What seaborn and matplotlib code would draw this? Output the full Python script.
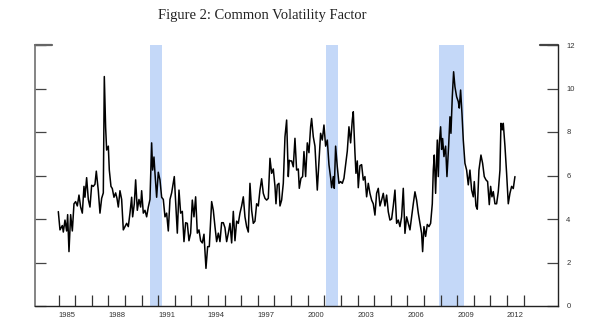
import matplotlib
matplotlib.use("Agg")
import matplotlib.pyplot as plt
import seaborn as sns
import numpy as np
import pandas as pd

# ---- data ----
years_a = [1984.984, 1985.084, 1985.225, 1985.285, 1985.385, 1985.485, 1985.546, 1985.626, 1985.726, 1985.827,
           1985.927, 1986.027, 1986.128, 1986.228, 1986.328, 1986.429, 1986.529, 1986.589, 1986.689, 1986.790,
           1986.890, 1986.991, 1987.091, 1987.191, 1987.271, 1987.392, 1987.492, 1987.593, 1987.693, 1987.753,
           1987.833, 1987.894, 1987.994, 1988.054, 1988.154, 1988.235, 1988.335, 1988.435, 1988.516, 1988.596,
           1988.696, 1988.797, 1988.897, 1988.997, 1989.098, 1989.198, 1989.298, 1989.399, 1989.459, 1989.559,
           1989.640, 1989.740, 1989.840, 1989.941, 1990.001, 1990.101, 1990.201, 1990.302, 1990.402, 1990.503,
           1990.603, 1990.663, 1990.743, 1990.804, 1990.904, 1991.004, 1991.105, 1991.205, 1991.305, 1991.406,
           1991.506, 1991.606, 1991.707, 1991.807, 1991.967]
vals_a = [4.34, 3.5, 3.7, 3.4, 3.95, 3.45, 4.2, 2.5, 4.2, 3.45,
          4.7, 4.8, 4.6, 5.1, 4.55, 4.27, 5.5, 5.0, 5.9, 4.9,
          4.55, 5.55, 5.5, 5.6, 6.2, 5.3, 4.27, 4.95, 5.2, 10.55,
          8.2, 7.17, 7.35, 6.25, 5.5, 5.4, 5.0, 5.2, 4.95, 4.55,
          5.3, 4.9, 3.5, 3.65, 3.8, 3.65, 4.27, 5.0, 4.1, 4.7,
          5.8, 4.4, 4.9, 4.55, 5.3, 4.27, 4.4, 4.1, 4.55, 4.9,
          7.5, 6.25, 6.85, 6.1, 5.0, 6.15, 5.8, 5.0, 4.9, 4.1,
          4.27, 3.45, 4.9, 5.2, 5.95]

years_b = [1992.149, 1992.249, 1992.349, 1992.450, 1992.550, 1992.650, 1992.751, 1992.851, 1992.951, 1993.052,
           1993.152, 1993.252, 1993.353, 1993.453, 1993.553, 1993.654, 1993.754, 1993.874, 1993.975, 1994.075,
           1994.216, 1994.316, 1994.416, 1994.517, 1994.617, 1994.717, 1994.818, 1994.918, 1995.018, 1995.119,
           1995.219, 1995.319, 1995.420, 1995.520, 1995.620, 1995.721, 1995.821, 1995.921, 1996.022, 1996.122,
           1996.222, 1996.323, 1996.423, 1996.523, 1996.624, 1996.724, 1996.824, 1996.925, 1997.025, 1997.125,
           1997.226, 1997.326, 1997.427, 1997.527, 1997.627, 1997.728, 1997.828, 1997.928, 1998.029, 1998.089,
           1998.169, 1998.269, 1998.330, 1998.430, 1998.530, 1998.631, 1998.731, 1998.831, 1998.891]
vals_b = [3.35, 5.33, 4.27, 4.35, 2.96, 3.83, 3.8, 3.0, 3.35, 4.87,
          4.1, 5.02, 3.35, 3.5, 3.0, 2.9, 3.3, 1.73, 2.73, 2.73,
          4.8, 4.4, 3.65, 2.96, 3.35, 2.96, 3.83, 3.83, 3.6, 2.96,
          3.35, 3.8, 2.9, 4.35, 3.0, 3.9, 3.8, 4.27, 4.6, 5.02,
          4.1, 3.65, 3.4, 5.64, 4.4, 3.8, 3.9, 4.7, 4.6, 5.33,
          5.85, 5.18, 4.95, 4.87, 4.95, 6.79, 6.1, 6.3, 5.5, 4.7,
          5.57, 5.64, 4.6, 4.87, 5.64, 7.78, 8.55, 5.95, 6.7]

years_c = [1998.931, 1999.031, 1999.132, 1999.232, 1999.332, 1999.433, 1999.493, 1999.593, 1999.694, 1999.774,
           1999.874, 1999.975, 2000.075, 2000.175, 2000.235, 2000.336, 2000.436, 2000.577, 2000.677, 2000.777,
           2000.878, 2000.978, 2001.078, 2001.179, 2001.279, 2001.379, 2001.440, 2001.540, 2001.600, 2001.680,
           2001.781, 2001.881, 2001.981, 2002.082, 2002.182, 2002.282, 2002.383, 2002.483, 2002.583, 2002.684,
           2002.744, 2002.844, 2002.905, 2002.985, 2003.045, 2003.145, 2003.246, 2003.346, 2003.446, 2003.547,
           2003.647, 2003.747, 2003.848, 2003.948, 2004.048, 2004.149, 2004.249, 2004.350, 2004.450, 2004.550,
           2004.651, 2004.751, 2004.851, 2004.952, 2005.052, 2005.152, 2005.253, 2005.353, 2005.453, 2005.554,
           2005.654, 2005.754]
vals_c = [6.67, 6.67, 6.4, 7.71, 6.25, 6.3, 5.41, 5.87, 5.95, 7.1,
          5.95, 7.5, 7.05, 8.24, 8.62, 7.78, 7.35, 5.33, 6.67, 7.94,
          7.63, 8.32, 7.35, 7.63, 6.5, 5.9, 5.44, 5.95, 5.41, 7.35,
          6.4, 5.64, 5.72, 5.64, 5.87, 6.5, 7.12, 8.24, 7.5, 8.55,
          8.93, 7.05, 6.1, 6.67, 5.44, 6.45, 6.5, 5.79, 5.95, 5.02,
          5.64, 5.18, 4.87, 4.7, 4.18, 5.18, 5.41, 4.6, 4.87, 5.18,
          4.6, 5.1, 4.33, 3.95, 4.0, 4.6, 5.33, 3.8, 3.95, 3.65,
          4.1, 5.41]

years_d = [2005.855, 2005.955, 2006.056, 2006.156, 2006.256, 2006.357, 2006.457, 2006.557, 2006.658, 2006.758,
           2006.858, 2006.919, 2006.999, 2007.099, 2007.200, 2007.300, 2007.400, 2007.501, 2007.561, 2007.621,
           2007.701, 2007.802, 2007.862, 2007.922, 2008.002, 2008.063, 2008.123, 2008.203, 2008.303, 2008.384,
           2008.484, 2008.564, 2008.624, 2008.705, 2008.785, 2008.865, 2008.966, 2009.066, 2009.126, 2009.206,
           2009.287, 2009.367, 2009.467, 2009.568, 2009.668, 2009.768, 2009.869, 2009.969, 2010.029, 2010.130,
           2010.210, 2010.310, 2010.431, 2010.531, 2010.631, 2010.732, 2010.832, 2010.932, 2011.013, 2011.093,
           2011.173, 2011.274, 2011.374, 2011.474, 2011.575, 2011.635, 2011.715, 2011.775, 2011.876, 2011.976,
           2012.076, 2012.176, 2012.277, 2012.377, 2012.477]
vals_d = [3.34, 4.1, 3.8, 3.5, 4.1, 4.7, 5.25, 4.87, 4.27, 3.8,
          3.34, 2.5, 3.65, 3.2, 3.75, 3.65, 3.8, 4.7, 6.25, 6.94,
          5.18, 7.63, 5.95, 7.47, 8.24, 7.2, 7.7, 6.87, 7.35, 5.95,
          7.35, 8.7, 7.94, 9.62, 10.77, 10.08, 9.62, 9.4, 9.1, 9.93,
          8.86, 7.63, 6.56, 6.25, 5.57, 6.25, 5.33, 5.02, 5.72, 4.6,
          4.45, 6.25, 6.94, 6.56, 5.95, 5.8, 5.72, 4.66, 5.5, 5.02,
          5.26, 4.7, 4.7, 5.26, 6.25, 8.4, 8.1, 8.4, 7.35, 6.1,
          4.7, 5.18, 5.5, 5.4, 5.95]

recession_start = [1990.50, 2001.10, 2007.92]
recession_end = [1991.20, 2001.83, 2009.42]

year_label_values = [1985, 1988, 1991, 1994, 1997, 2000, 2003, 2006, 2009, 2012]
y_tick_values = [0, 2, 4, 6, 8, 10, 12]

title = "Figure 2: Common Volatility Factor"

df = pd.DataFrame({
    "year": years_a + years_b + years_c + years_d,
    "factor": vals_a + vals_b + vals_c + vals_d,
})

# ---- figure ----
sns.set_style("white")
plt.rcParams["font.family"] = ["Liberation Sans", "DejaVu Sans"]

fig = plt.figure(figsize=(6.0, 3.34), dpi=100)
ax = fig.add_axes([35 / 600, 28 / 334, 523 / 600, 261 / 334])

for s, e in zip(recession_start, recession_end):
    ax.axvspan(s, e, color="#c4d8f8", lw=0, zorder=0)

sns.lineplot(data=df, x="year", y="factor", ax=ax, color="black",
             lw=1.1, estimator=None, sort=False, zorder=3)

ax.set_xlim(1983.58, 2015.07)
ax.set_ylim(0, 12)
ax.set_xlabel("")
ax.set_ylabel("")

# spines
ax.spines["top"].set_visible(False)
ax.spines["left"].set_color("#707070")
ax.spines["left"].set_linewidth(1.2)
ax.spines["right"].set_color("#222222")
ax.spines["right"].set_linewidth(1.0)
ax.spines["bottom"].set_color("#222222")
ax.spines["bottom"].set_linewidth(1.0)

# y ticks on both sides, labels on the right
ax.set_yticks(y_tick_values)
ax.yaxis.set_ticks_position("both")
ax.tick_params(axis="y", which="major", direction="in", length=8, width=0.9,
               color="#444444", left=True, right=True, labelleft=False,
               labelright=True, labelsize=5.5, labelcolor="#333333", pad=6)
# longer corner ticks at the top value
ax.axhline(y_tick_values[-1], xmin=0, xmax=17 / 523, color="#666666", lw=1.6, clip_on=False)
ax.axhline(y_tick_values[-1], xmin=1 - 18 / 523, xmax=1, color="#444444", lw=1.6, clip_on=False)

# x axis: year labels at mid-year, no tick marks
ax.set_xticks([y + 0.5 for y in year_label_values])
ax.set_xticklabels([str(y) for y in year_label_values])
ax.tick_params(axis="x", which="major", length=0, labelsize=5.5,
               labelcolor="#333333", pad=4)
# quarterly minor ticks
quarters = [1985 + q / 4 for q in range(0, 28 * 4 + 1)]
ax.set_xticks(quarters, minor=True)
ax.tick_params(axis="x", which="minor", direction="in", length=3.5,
               width=0.8, color="#333333")
# tall yearly ticks on a secondary axis
sec = ax.secondary_xaxis("bottom")
sec.set_xticks(list(range(1985, 2014)))
sec.set_xticklabels([])
sec.tick_params(axis="x", direction="in", length=8, width=0.9, color="#333333")
sec.spines["bottom"].set_visible(False)

fig.text(262 / 600, 1 - 15 / 334, title, ha="center", va="center",
         fontsize=10.5, family=["Liberation Serif", "DejaVu Serif"], color="#222222")

fig.savefig("out.png", dpi=100)
